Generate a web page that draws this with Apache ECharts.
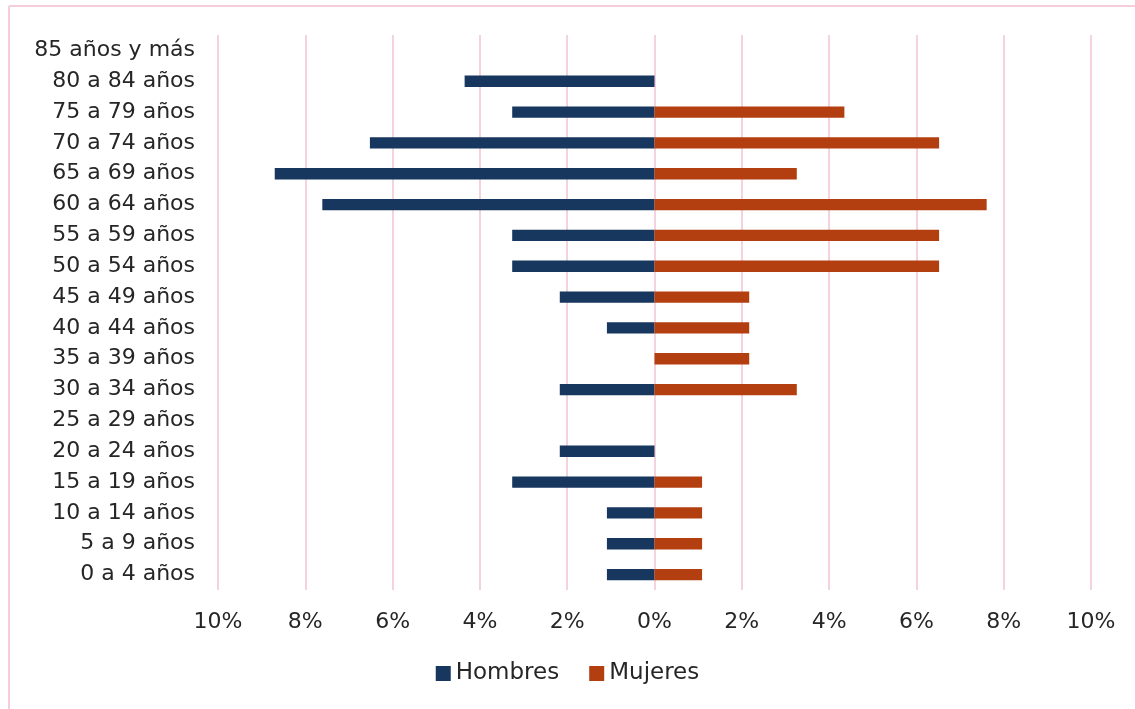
<!DOCTYPE html>
<html>
<head>
<meta charset="utf-8">
<script src="https://cdn.jsdelivr.net/npm/echarts@6/dist/echarts.min.js"></script>
<style>
  html, body { margin: 0; padding: 0; background: #fff; }
  #main { width: 1135px; height: 709px; }
</style>
</head>
<body>
<div id="main"></div>
<script>
// grupos de edad, de abajo hacia arriba
var categorias = ['0 a 4 años', '5 a 9 años', '10 a 14 años', '15 a 19 años', '20 a 24 años',
    '25 a 29 años', '30 a 34 años', '35 a 39 años', '40 a 44 años', '45 a 49 años',
    '50 a 54 años', '55 a 59 años', '60 a 64 años', '65 a 69 años', '70 a 74 años',
    '75 a 79 años', '80 a 84 años', '85 años y más'];
// porcentajes (hombres se dibujan hacia la izquierda)
var hombres = [1.09, 1.09, 1.09, 3.26, 2.17, 0, 2.17, 0, 1.09, 2.17, 3.26, 3.26, 7.61, 8.70, 6.52, 3.26, 4.35, 0];
var mujeres = [1.09, 1.09, 1.09, 1.09, 0, 0, 3.26, 2.17, 2.17, 2.17, 6.52, 6.52, 7.61, 3.26, 6.52, 4.35, 0, 0];
var ticks = [-10, -8, -6, -4, -2, 0, 2, 4, 6, 8, 10];

var fuente = '"DejaVu Sans", sans-serif';
var chart = echarts.init(document.getElementById('main'));

var option = {
    animation: false,
    textStyle: {fontFamily: fuente},
    graphic: [
        {type: 'line', shape: {x1: 9, y1: 6, x2: 9, y2: 709}, style: {stroke: '#F4CEDC', lineWidth: 2}},
        {type: 'line', shape: {x1: 9, y1: 6, x2: 1135, y2: 6}, style: {stroke: '#F4CEDC', lineWidth: 2}}
    ],
    legend: {
        bottom: 19,
        left: 'center',
        itemWidth: 15,
        itemHeight: 15,
        itemGap: 30,
        icon: 'rect',
        textStyle: {fontSize: 23, color: '#262626', fontFamily: fuente},
        data: ['Hombres', 'Mujeres']
    },
    grid: {left: 218, right: 44, top: 35, bottom: 119},
    xAxis: {
        type: 'value',
        min: -10,
        max: 10,
        interval: 2,
        axisLine: {show: false},
        axisTick: {show: false},
        splitLine: {lineStyle: {color: '#F4D3DF', width: 2}},
        axisLabel: {
            fontSize: 22,
            color: '#262626',
            margin: 21,
            formatter: function (v) { return Math.abs(v) + '%'; }
        }
    },
    yAxis: {
        type: 'category',
        data: categorias,
        axisLine: {show: false},
        axisTick: {show: false},
        axisLabel: {fontSize: 22, color: '#262626', margin: 23}
    },
    series: [
        {
            name: 'Hombres',
            type: 'bar',
            stack: 'p',
            barWidth: '37%',
            itemStyle: {color: '#17375E'},
            data: hombres.map(function (v) { return -v; })
        },
        {
            name: 'Mujeres',
            type: 'bar',
            stack: 'p',
            barWidth: '37%',
            itemStyle: {color: '#B33F10'},
            data: mujeres
        }
    ]
};
chart.setOption(option);
</script>
</body>
</html>
